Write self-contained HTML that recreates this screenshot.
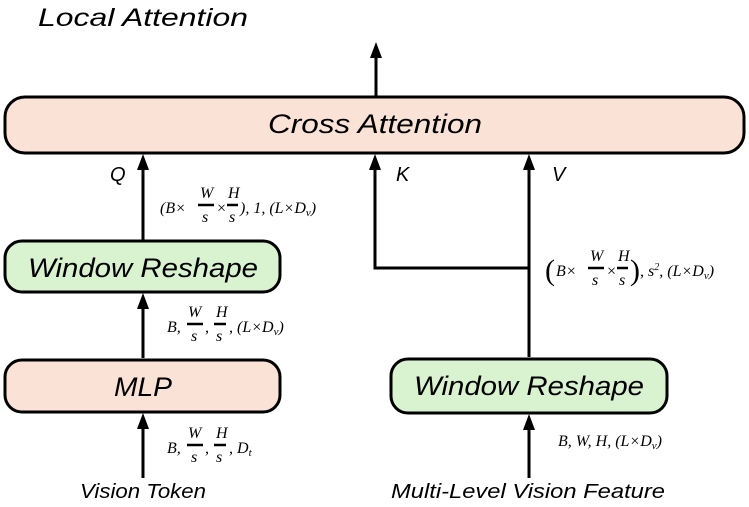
<!DOCTYPE html>
<html><head><meta charset="utf-8"><style>
body{margin:0;background:#fff;}
svg text{font-family:"Liberation Sans",sans-serif;}
.lb{font-style:italic;font-size:27px;}
.m{font-family:"Liberation Serif",serif;font-style:italic;font-size:16px;}
.mn{font-family:"Liberation Serif",serif;font-size:16px;}
</style></head><body>
<svg width="749" height="502" viewBox="0 0 749 502" xmlns="http://www.w3.org/2000/svg">
<text x="38" y="26" class="lb" style="font-size:25px" textLength="210" lengthAdjust="spacingAndGlyphs">Local Attention</text>
<rect x="5" y="97" width="739" height="56" rx="20" fill="#fbe2d6" stroke="#000" stroke-width="3"/>
<text x="375" y="133" class="lb" text-anchor="middle" textLength="214" lengthAdjust="spacingAndGlyphs">Cross Attention</text>
<rect x="5" y="241" width="275" height="51" rx="17" fill="#d9f2d0" stroke="#000" stroke-width="3"/>
<text x="143" y="277" class="lb" text-anchor="middle" textLength="230" lengthAdjust="spacingAndGlyphs">Window Reshape</text>
<rect x="5" y="360" width="275" height="52" rx="17" fill="#fbe2d6" stroke="#000" stroke-width="3"/>
<text x="143" y="396" class="lb" text-anchor="middle" textLength="58" lengthAdjust="spacingAndGlyphs">MLP</text>
<rect x="391" y="359" width="276" height="54" rx="17" fill="#d9f2d0" stroke="#000" stroke-width="3"/>
<text x="529" y="395" class="lb" text-anchor="middle" textLength="230" lengthAdjust="spacingAndGlyphs">Window Reshape</text>
<g stroke="#000" stroke-width="3" fill="none">
<line x1="376" y1="96" x2="376" y2="55"/>
<line x1="143" y1="240" x2="143" y2="165"/>
<line x1="143" y1="358" x2="143" y2="304"/>
<line x1="143" y1="478" x2="143" y2="424"/>
<line x1="529" y1="357" x2="529" y2="165"/>
<polyline points="529,268 375,268 375,165"/>
<line x1="529" y1="478" x2="529" y2="425"/>
</g>
<g fill="#000">
<polygon points="376,42 370,58 382,58"/>
<polygon points="143,154 137,170 149,170"/>
<polygon points="143,293 137,309 149,309"/>
<polygon points="143,413 137,429 149,429"/>
<polygon points="529,154 523,170 535,170"/>
<polygon points="375,154 369,170 381,170"/>
<polygon points="529,414 523,430 535,430"/>
</g>
<text x="110" y="181" class="lb" style="font-size:20px">Q</text>
<text x="396" y="181" class="lb" style="font-size:20px">K</text>
<text x="552" y="181" class="lb" style="font-size:20px">V</text>
<text x="143" y="498" class="lb" style="font-size:20px" text-anchor="middle" textLength="126" lengthAdjust="spacingAndGlyphs">Vision Token</text>
<text x="528" y="498" class="lb" style="font-size:20px" text-anchor="middle" textLength="274" lengthAdjust="spacingAndGlyphs">Multi-Level Vision Feature</text>
<g>
<text x="160" y="213" class="m">(B×</text>
<text x="200" y="198" class="m">W</text><line x1="198" y1="205" x2="214" y2="205" stroke="#000" stroke-width="2.5"/><text x="202" y="222" class="m">s</text>
<text x="216" y="213" class="m">×</text>
<text x="228" y="198" class="m">H</text><line x1="227" y1="205" x2="238" y2="205" stroke="#000" stroke-width="2.5"/><text x="229" y="222" class="m">s</text>
<text x="240" y="213" class="m">), 1, (L×D<tspan font-size="11" dy="3">v</tspan><tspan dy="-3">)</tspan></text>

<text x="167" y="332" class="m">B,</text>
<text x="188" y="317" class="m">W</text><line x1="187" y1="324" x2="203" y2="324" stroke="#000" stroke-width="2.5"/><text x="191" y="341" class="m">s</text>
<text x="205" y="332" class="m">,</text>
<text x="216" y="317" class="m">H</text><line x1="214" y1="324" x2="226" y2="324" stroke="#000" stroke-width="2.5"/><text x="216" y="341" class="m">s</text>
<text x="229" y="332" class="m">, (L×D<tspan font-size="11" dy="3">v</tspan><tspan dy="-3">)</tspan></text>

<text x="167" y="453" class="m">B,</text>
<text x="188" y="438" class="m">W</text><line x1="187" y1="445" x2="203" y2="445" stroke="#000" stroke-width="2.5"/><text x="191" y="462" class="m">s</text>
<text x="205" y="453" class="m">,</text>
<text x="216" y="438" class="m">H</text><line x1="214" y1="445" x2="226" y2="445" stroke="#000" stroke-width="2.5"/><text x="216" y="462" class="m">s</text>
<text x="229" y="453" class="m">, D<tspan font-size="11" dy="3">t</tspan></text>

<text x="545" y="280" class="mn" style="font-size:30px">(</text>
<text x="556" y="276" class="m">B×</text>
<text x="590" y="261" class="m">W</text><line x1="588" y1="268" x2="604" y2="268" stroke="#000" stroke-width="2.5"/><text x="592" y="285" class="m">s</text>
<text x="606" y="276" class="m">×</text>
<text x="618" y="261" class="m">H</text><line x1="617" y1="268" x2="628" y2="268" stroke="#000" stroke-width="2.5"/><text x="619" y="285" class="m">s</text>
<text x="630" y="280" class="mn" style="font-size:30px">)</text>
<text x="640" y="276" class="m">, s<tspan font-size="10" dy="-6">2</tspan><tspan dy="6">, (L×D</tspan><tspan font-size="11" dy="3">v</tspan><tspan dy="-3">)</tspan></text>

<text x="558" y="446" class="m">B, W, H, (L×D<tspan font-size="11" dy="3">v</tspan><tspan dy="-3">)</tspan></text>
</g>
</svg>
</body></html>
